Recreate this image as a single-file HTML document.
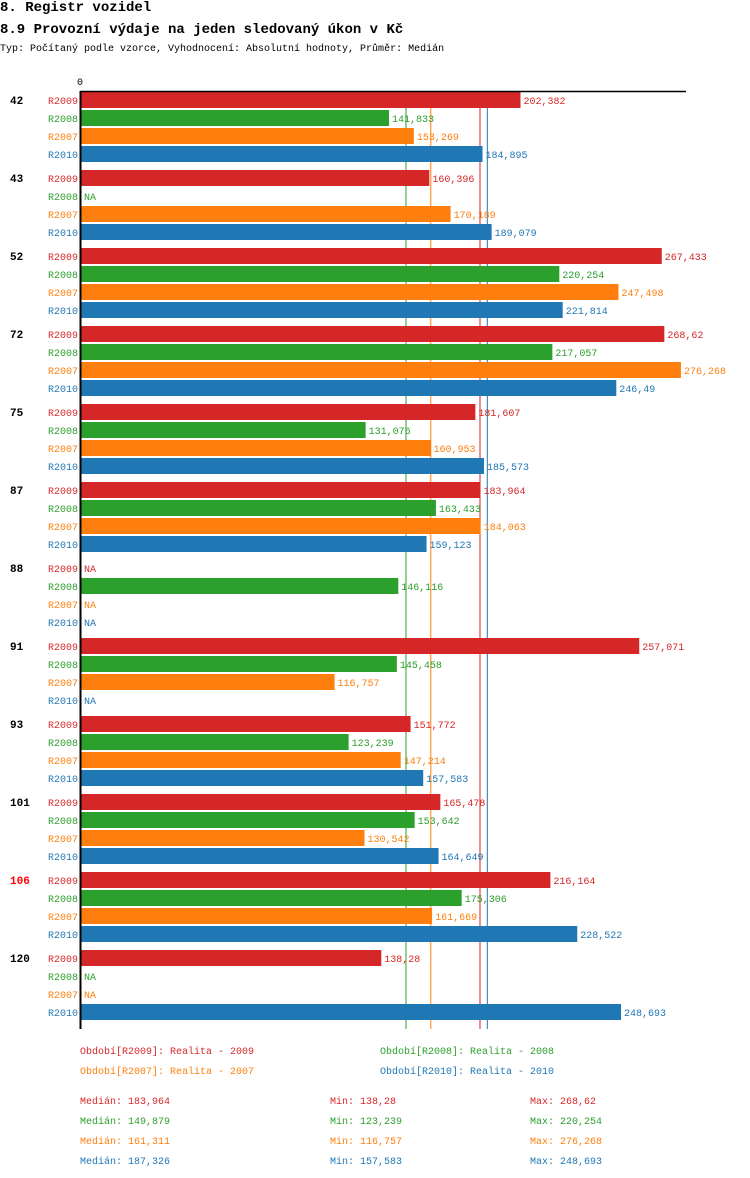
<!DOCTYPE html>
<html><head><meta charset="utf-8">
<style>
body{margin:0;background:#fff;font-family:"Liberation Mono","DejaVu Sans Mono",monospace;}
#wrap{position:relative;width:750px;height:1178px;overflow:hidden;}
.t{position:absolute;white-space:nowrap;}
</style></head><body>
<div id="wrap">
<div class="t" style="left:0;top:0;font-size:14px;font-weight:bold;">8. Registr vozidel</div>
<div class="t" style="left:0;top:22px;font-size:14px;font-weight:bold;">8.9 Provozní výdaje na jeden sledovaný úkon v Kč</div>
<div class="t" style="left:0;top:44px;font-size:10px;">Typ: Počítaný podle vzorce, Vyhodnocení: Absolutní hodnoty, Průměr: Medián</div>
<svg id="chart" width="750" height="1178" style="position:absolute;left:0;top:0"></svg>
</div>
<script>
const groups=["42","43","52","72","75","87","88","91","93","101","106","120"];
const seriesNames=["R2009","R2008","R2007","R2010"];
const r2009=[202.382,160.396,267.433,268.62,181.607,183.964,null,257.071,151.772,165.478,216.164,138.28];
const r2008=[141.833,null,220.254,217.057,131.076,163.433,146.116,145.458,123.239,153.642,175.306,null];
const r2007=[153.269,170.189,247.498,276.268,160.953,184.063,null,116.757,147.214,130.542,161.669,null];
const r2010=[184.895,189.079,221.814,246.49,185.573,159.123,null,null,157.583,164.649,228.522,248.693];
const medians=[183.964,149.879,161.311,187.326];
const mins=["138,28","123,239","116,757","157,583"];
const maxs=["268,62","220,254","276,268","248,693"];
const medianLabels=["183,964","149,879","161,311","187,326"];
const legendText=["Období[R2009]: Realita - 2009","Období[R2008]: Realita - 2008","Období[R2007]: Realita - 2007","Období[R2010]: Realita - 2010"];
const colors=["#d62728","#2ca02c","#ff7f0e","#1f77b4"];
const data=[r2009,r2008,r2007,r2010];
const NS="http://www.w3.org/2000/svg";
const svg=document.getElementById('chart');
const x0=81, k=2.1716;
const xs=v=>x0+v*k;
const ys=(g,s)=>92+g*78+s*18;
function mk(tag,attrs,txt){const e=document.createElementNS(NS,tag);for(const a in attrs)e.setAttribute(a,attrs[a]);if(txt!=null)e.textContent=txt;svg.appendChild(e);return e;}
const F='"Liberation Mono","DejaVu Sans Mono",monospace';
medians.forEach((m,si)=>{
  const l=mk('line',{x1:xs(m)-0.5,x2:xs(m)-0.5,y1:91,y2:1029,stroke:colors[si],'stroke-width':1});
  
  
});
groups.forEach((g,gi)=>{
  const gl=mk('text',{x:10,y:ys(gi,0)+12,'font-size':11,'font-weight':'bold','font-family':F,fill:g==="106"?"#ff0000":"#000"},g);
  
  
  data.forEach((arr,si)=>{
    const y=ys(gi,si);
    const sl=mk('text',{x:78,y:y+12,'font-size':10,'text-anchor':'end','font-family':F,fill:colors[si]},seriesNames[si]);
    
    
    const v=arr[gi];
    if(v!=null){
      const r=mk('rect',{x:x0,y:y,width:xs(v)-x0,height:16,fill:colors[si]});
      
      
    }
    const lbl=v==null?"NA":String(v).replace('.',',');
    const vl=mk('text',{x:(v==null?x0:xs(v))+3,y:y+12,'font-size':10,'font-family':F,fill:colors[si]},lbl);
    
    
  });
});
const ax=mk('line',{x1:80,x2:686,y1:91.5,y2:91.5,stroke:'#000','stroke-width':1.5});


const ay=mk('line',{x1:80.5,x2:80.5,y1:91,y2:1029,stroke:'#000','stroke-width':2});


const z=mk('text',{x:77,y:85,'font-size':10,'font-family':F,fill:'#000'},"0");


const legPos=[[80,1054],[380,1054],[80,1074],[380,1074]];
legendText.forEach((t,i)=>{
  const e=mk('text',{x:legPos[i][0],y:legPos[i][1],'font-size':10,'font-family':F,fill:colors[i]},t);
  
  
});
[0,1,2,3].forEach(i=>{
  const y=1104+i*20;
  const a=mk('text',{x:80,y:y,'font-size':10,'font-family':F,fill:colors[i]},"Medián: "+medianLabels[i]);
  
  
  const b=mk('text',{x:330,y:y,'font-size':10,'font-family':F,fill:colors[i]},"Min: "+mins[i]);
  
  
  const c=mk('text',{x:530,y:y,'font-size':10,'font-family':F,fill:colors[i]},"Max: "+maxs[i]);
  
  
});
</script>
</body></html>
